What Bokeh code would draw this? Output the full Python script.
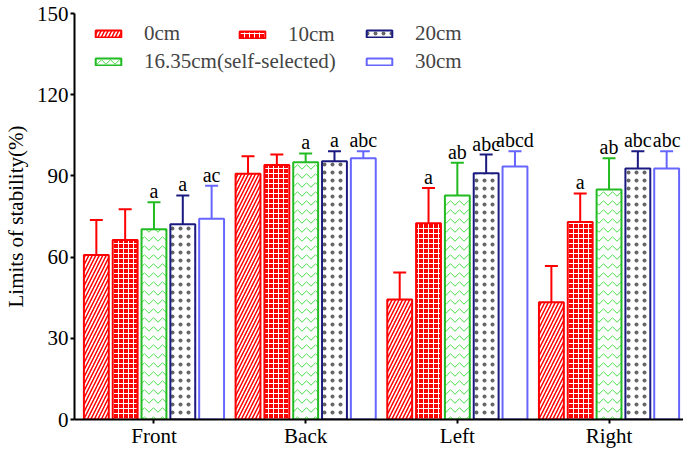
from bokeh.plotting import figure
from bokeh.models import (ColumnDataSource, Range1d, FixedTicker, Whisker, TeeHead,
                          Legend, LegendItem)
from bokeh.transform import dodge
from bokeh.core.properties import value
from bokeh.embed import file_html
from bokeh.resources import INLINE

categories = ["Front", "Back", "Left", "Right"]
series = ["0cm", "10cm", "16.35cm(self-selected)", "20cm", "30cm"]

m_0 = [60.8, 90.8, 44.3, 43.3]
sd_0 = [12.9, 6.5, 10.0, 13.4]
m_10 = [66.3, 94.0, 72.5, 73.0]
sd_10 = [11.4, 3.9, 13.0, 10.5]
m_16 = [70.3, 95.0, 82.8, 85.0]
sd_16 = [10.0, 3.3, 12.1, 11.5]
m_20 = [72.1, 95.4, 91.0, 92.7]
sd_20 = [10.7, 3.7, 6.9, 6.4]
m_30 = [74.2, 96.5, 93.5, 92.7]
sd_30 = [12.2, 2.6, 5.6, 6.4]

lab_0 = ["", "", "", ""]
lab_10 = ["", "", "a", "a"]
lab_16 = ["a", "a", "ab", "ab"]
lab_20 = ["a", "a", "abc", "abc"]
lab_30 = ["ac", "abc", "abcd", "abc"]

y_ticks = [0, 30, 60, 90, 120, 150]

FONT = "Liberation Serif"

p = figure(width=683, height=450, output_backend="svg", toolbar_location=None,
           x_range=Range1d(-0.524, 3.491), y_range=Range1d(0, 150),
           min_border_left=70, min_border_right=0, min_border_top=13, min_border_bottom=20)
p.outline_line_color = None
p.grid.visible = False

styles = [
    dict(line_color="#ff0000", fill_color="white", hatch_pattern="right_diagonal_line",
         hatch_color="#ff0000", hatch_scale=7, hatch_weight=1.5),
    dict(line_color="#ff0000", fill_color="#ff0000", hatch_pattern="cross",
         hatch_color="white", hatch_scale=5, hatch_weight=1),
    dict(line_color="#22bb22", fill_color="white", hatch_pattern="horizontal_wave",
         hatch_color="#44dd44", hatch_scale=9, hatch_weight=1),
    dict(line_color="#1a1a80", fill_color="white", hatch_pattern="dot",
         hatch_color="black", hatch_scale=8, hatch_alpha=0.6),
    dict(line_color="#6666ff", fill_color="white"),
]
means = [m_0, m_10, m_16, m_20, m_30]
sds = [sd_0, sd_10, sd_16, sd_20, sd_30]
labs = [lab_0, lab_10, lab_16, lab_20, lab_30]
offsets = [-0.38, -0.19, 0.0, 0.19, 0.38]

renderers = []
for i in range(5):
    src = ColumnDataSource(dict(
        gi=list(range(len(categories))), mean=means[i],
        upper=[m + s for m, s in zip(means[i], sds[i])],
        lower=[m - s for m, s in zip(means[i], sds[i])],
        lab=labs[i]))
    x = dodge("gi", offsets[i], range=p.x_range)
    r = p.vbar(x=x, top="mean", bottom=0, width=0.164, source=src, line_width=2, **styles[i])
    renderers.append(r)
    col = styles[i]["line_color"]
    w = Whisker(base=x, upper="upper", lower="lower", source=src, dimension="height",
                line_color=col, line_width=2,
                upper_head=TeeHead(size=13, line_color=col, line_width=2),
                lower_head=TeeHead(size=13, line_color=col, line_width=2))
    p.add_layout(w)
    p.text(x=x, y="upper", text="lab", source=src, text_align="center",
           text_baseline="bottom", text_font=value(FONT), text_font_size="20px",
           text_color="black")

# axes
p.xaxis.ticker = FixedTicker(ticks=list(range(len(categories))))
p.xaxis.major_label_overrides = {i: c for i, c in enumerate(categories)}
p.yaxis.ticker = FixedTicker(ticks=y_ticks)
p.yaxis.axis_label = "Limits of stability(%)"
for ax in (p.xaxis[0], p.yaxis[0]):
    ax.axis_line_width = 2
    ax.axis_line_color = "black"
    ax.major_tick_line_color = "black"
    ax.major_tick_line_width = 2
    ax.major_tick_in = 0
    ax.major_tick_out = 4
    ax.minor_tick_line_color = None
    ax.major_label_text_font = FONT
    ax.major_label_text_font_size = "21px"
    ax.major_label_text_color = "black"
p.xaxis.major_label_standoff = 0
p.yaxis.major_label_standoff = 2
p.yaxis.axis_label_text_font = FONT
p.yaxis.axis_label_text_font_size = "21px"
p.yaxis.axis_label_text_font_style = "normal"
p.yaxis.axis_label_text_color = "black"
p.yaxis.axis_label_standoff = 6

cols = [([0, 2], 18, 345), ([1], 162, 372), ([3, 4], 289, 345)]
for idx, lx, ly in cols:
    items = [LegendItem(label=series[k], renderers=[renderers[k]]) for k in idx]
    lg = Legend(items=items, location=(lx, ly), orientation="vertical", spacing=3,
                padding=0, margin=0, border_line_color=None, background_fill_alpha=0,
                glyph_width=32, glyph_height=9, label_standoff=20,
                label_text_font=FONT, label_text_font_size="21px", label_height=24)
    p.add_layout(lg)

open("out.html", "w").write(file_html(p, INLINE))
